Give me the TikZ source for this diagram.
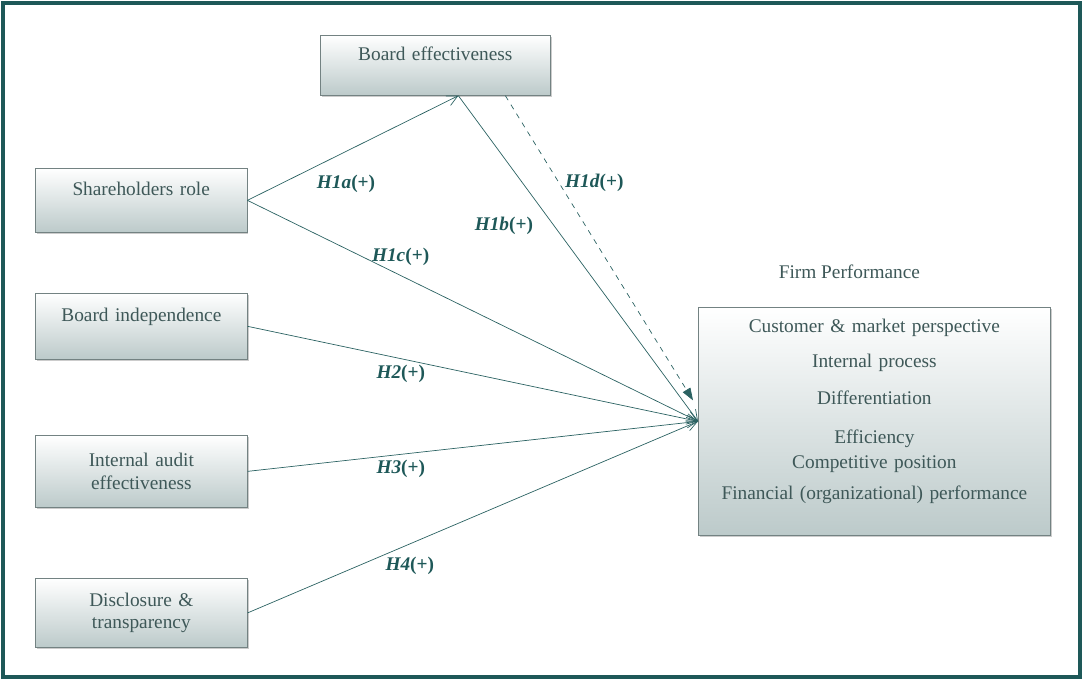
\documentclass[tikz,border=0pt]{standalone}
\usepackage{fontspec}
\setmainfont{Liberation Serif}
\usetikzlibrary{calc,positioning,shadows,arrows.meta}
\definecolor{bordgris}{HTML}{738282}
\definecolor{fondbas}{HTML}{BCCACA}
\definecolor{textegris}{HTML}{3E5858}
\definecolor{sarcelle}{HTML}{2B6262}
\definecolor{cadrevert}{HTML}{1E5858}
\tikzstyle{cadre} = [rectangle, draw=bordgris, top color=white, bottom color=fondbas, drop shadow={shadow xshift=0.8pt, shadow yshift=-0.8pt, opacity=0.4}, minimum width=4.24cm, text width=4cm, text centered, text=textegris, font=\fontsize{11}{13}\selectfont]
\tikzstyle{haut} = [text depth=13pt]
\tikzstyle{fleche} = [draw=sarcelle, -{Straight Barb[length=6pt,width=6pt]}]
\tikzstyle{hyp} = [text=cadrevert, font=\fontsize{11}{13}\selectfont\bfseries\itshape]

\begin{document}
\begin{tikzpicture}
                \useasboundingbox (0,0) rectangle (21.66,-13.6);
                \draw[cadrevert, line width=2.6pt] (0.06,-0.06) rectangle (21.6,-13.54);

                \node [cadre, haut, anchor=north west, minimum width=4.6cm, text width=4.3cm, minimum height=1.2cm] (be) at (6.4,-0.7) {Board effectiveness};
                \node [cadre, haut, anchor=north west, minimum width=4.2cm, minimum height=1.28cm] (sh) at (0.7,-3.36) {Shareholders role};
                \node [cadre, haut, anchor=north west, minimum height=1.32cm] (bi) at (0.7,-5.86) {Board independence};
                \node [cadre, anchor=north west, minimum height=1.44cm] (ia) at (0.7,-8.7) {Internal audit\\ effectiveness};
                \node [cadre, anchor=north west, minimum height=1.38cm] (dt) at (0.7,-11.56) {Disclosure \&\\ transparency};

                \node [cadre, anchor=north west, minimum width=7.04cm, text width=6.8cm, minimum height=4.56cm] (fp) at (13.96,-6.14) {Customer \& market perspective\\[7pt]
                    Internal process\\[8pt]
                    Differentiation\\[9pt]
                    Efficiency\\[1pt]
                    Competitive position\\[5pt]
                    Financial (organizational) performance\par\vspace*{11pt}};
                \node [above=0.45cm of fp, xshift=-0.5cm, text=textegris, font=\fontsize{11}{13}\selectfont] (titre) {Firm Performance};

                % hypotheses
                \draw[fleche] (sh.east) -- node[hyp, pos=0.3, below right] {H1a\textup{(+)}} ([xshift=0.46cm]be.south);
                \draw[fleche] ([xshift=0.46cm]be.south) -- node[hyp, pos=0.4, left=0.3cm] {H1b\textup{(+)}} (fp.west);
                \draw[fleche] (sh.east) -- node[hyp, pos=0.34, above, yshift=2pt] {H1c\textup{(+)}} (fp.west);
                \draw[draw=sarcelle, dashed, -{Triangle[length=7pt,width=5pt]}] ([xshift=1.4cm]be.south) -- node[hyp, pos=0.285, right] {H1d\textup{(+)}} ([xshift=-0.1cm, yshift=0.42cm]fp.west);
                \draw[fleche] (bi.east) -- node[hyp, pos=0.34, below] {H2\textup{(+)}} (fp.west);
                \draw[fleche] (ia.east) -- node[hyp, pos=0.34, below] {H3\textup{(+)}} (fp.west);
                \draw[fleche] (dt.east) -- node[hyp, pos=0.36, below, yshift=-4pt] {H4\textup{(+)}} (fp.west);
            \end{tikzpicture}
\end{document}
